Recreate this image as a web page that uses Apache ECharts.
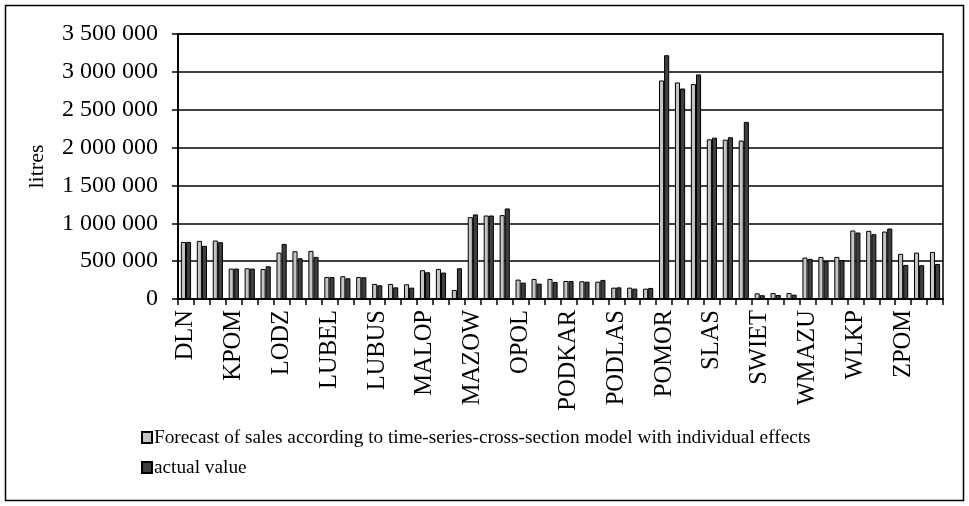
<!DOCTYPE html>
<html>
<head>
<meta charset="utf-8">
<script src="https://cdn.jsdelivr.net/npm/echarts@6/dist/echarts.min.js"></script>
<style>html,body{margin:0;padding:0;background:#fff;}#c{width:969px;height:506px;}</style>
</head>
<body>
<div id="c"></div>
<script>
var regions = ['DLN','KPOM','LODZ','LUBEL','LUBUS','MALOP','MAZOW','OPOL','PODKAR','PODLAS','POMOR','SLAS','SWIET','WMAZU','WLKP','ZPOM'];
var forecast = [754000,768000,772000, 402000,406000,397000, 613000,631000,635000, 291000,300000,291000,
  199000,199000,194000, 380000,397000,119000, 1081000,1103000,1108000, 256000,265000,265000,
  238000,234000,229000, 150000,150000,137000, 2886000,2860000,2838000, 2109000,2105000,2092000,
  75000,79000,79000, 547000,556000,556000, 905000,900000,891000, 596000,613000,622000];
var actual = [754000,702000,750000, 402000,402000,432000, 728000,538000,556000, 291000,274000,287000,
  181000,154000,150000, 353000,349000,406000, 1117000,1103000,1196000, 216000,203000,225000,
  238000,229000,252000, 154000,137000,146000, 3220000,2780000,2966000, 2131000,2136000,2339000,
  50000,53000,57000, 530000,499000,512000, 878000,856000,931000, 450000,446000,463000];
var yTicks = [0,500000,1000000,1500000,2000000,2500000,3000000,3500000];
var seriesNames = ['Forecast of sales according to time-series-cross-section model with individual effects','actual value'];

var categories = [];
regions.forEach(function(r){ for (var i=1;i<=3;i++) categories.push(r + '|' + i); });

function fmt(v){ return String(v).replace(/\B(?=(\d{3})+(?!\d))/g, ' '); }

var chart = echarts.init(document.getElementById('c'), null, {renderer:'canvas'});
var FONT = '"Liberation Serif","Times New Roman",serif';
chart.setOption({
  animation:false,
  textStyle:{fontFamily:FONT, color:'#000'},
  grid:{left:178, right:26, top:34, bottom:207, show:true, borderColor:'#000', borderWidth:1.5, backgroundColor:'transparent'},
  graphic:[{type:'rect', shape:{x:5.5,y:5.5,width:958,height:495}, style:{fill:'none', stroke:'#000', lineWidth:1.5}, silent:true}],
  legend:{
    orient:'vertical', left:136, top:423, itemWidth:10, itemHeight:11, itemGap:11,
    icon:'rect',
    textStyle:{fontFamily:FONT, fontSize:19.3, color:'#000', padding:[0,0,0,-3]},
    data:seriesNames
  },
  xAxis:{
    type:'category', data:categories,
    axisLine:{lineStyle:{color:'#000', width:2}},
    axisTick:{show:true, interval:0, length:6, lineStyle:{color:'#000', width:1.5}},
    axisLabel:{interval:2, rotate:90, fontFamily:FONT, fontSize:24.5, color:'#000', margin:11,
      formatter:function(v){ return v.split('|')[0]; }}
  },
  yAxis:{
    type:'value', min:0, max:3500000, interval:500000,
    name:'litres', nameLocation:'middle', nameGap:130, nameRotate:90,
    nameTextStyle:{fontFamily:FONT, fontSize:22, color:'#000'},
    axisLine:{show:true, lineStyle:{color:'#000', width:2}},
    axisTick:{show:true, length:6, lineStyle:{color:'#000', width:1.5}},
    axisLabel:{fontFamily:FONT, fontSize:24, color:'#000', margin:20,
      formatter:function(v){ return yTicks.indexOf(v) >= 0 ? fmt(v) : ''; }},
    splitLine:{show:true, lineStyle:{color:'#000', width:1.6}}
  },
  series:[
    {name:seriesNames[0], type:'bar', data:forecast, barGap:'0%', barCategoryGap:'36%',
      itemStyle:{color:'#c4c4c4', borderColor:'#000', borderWidth:1}},
    {name:seriesNames[1], type:'bar', data:actual,
      itemStyle:{color:'#3f3f3f', borderColor:'#000', borderWidth:1}}
  ]
});
</script>
</body>
</html>
